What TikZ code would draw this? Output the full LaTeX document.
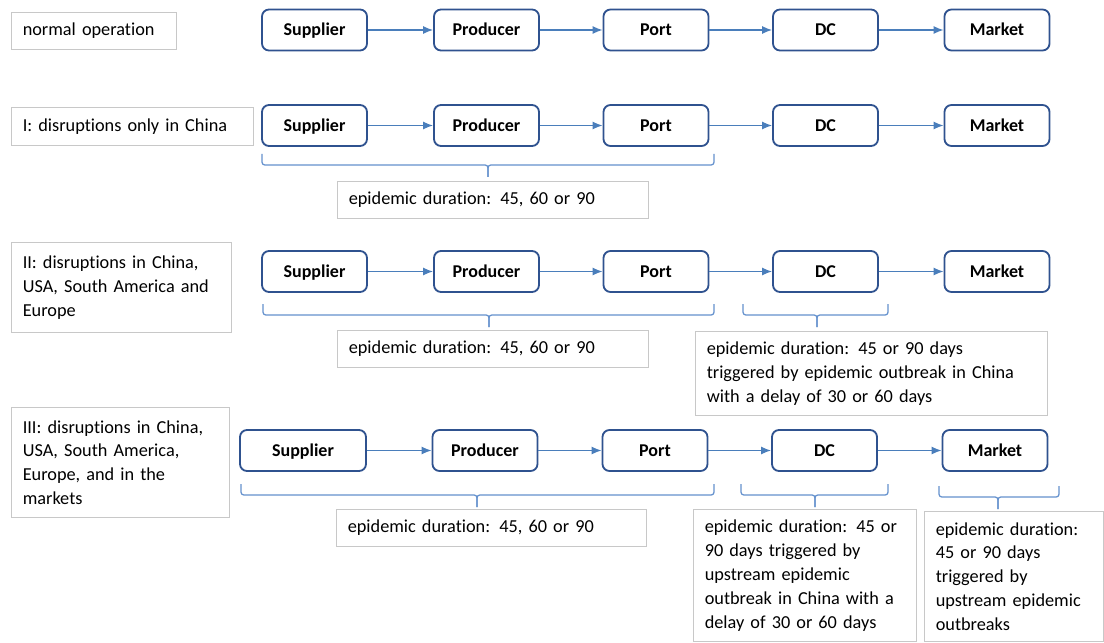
\documentclass[tikz,border=0pt]{standalone}
\usepackage{fontspec}
\setmainfont{Carlito}[Ligatures=NoCommon]
\usetikzlibrary{arrows.meta}

\definecolor{chainblue}{RGB}{47,82,143}
\definecolor{flowblue}{RGB}{74,126,187}
\definecolor{bracecol}{RGB}{100,145,205}
\definecolor{notegray}{RGB}{200,200,200}

% square brace under a span: left x, right x, top y, stem x
\newcommand{\spanbrace}[4]{%
	\draw[brace] (#1,#3) |- (#4,#3+11) -- (#4,#3+23);
	\draw[brace] (#2,#3) |- (#4,#3+11) -- (#4,#3+23);
}

\begin{document}
\begin{tikzpicture}[x=0.025cm, y=-0.025cm,
		stage/.style={draw=chainblue, line width=1.3pt, rounded corners=5pt, minimum width=2.625cm, minimum height=1.025cm, inner sep=0pt, text height=10.5pt, text depth=2pt, font=\fontsize{12.8}{17}\selectfont\bfseries},
		note/.style={draw=notegray, line width=0.8pt, anchor=north west, align=left, inner xsep=0.28cm, inner ysep=0pt, font=\fontsize{13}{17}\selectfont},
		flow/.style={draw=flowblue, line width=0.9pt, -{Latex[length=2.5mm,width=2mm]}},
		brace/.style={draw=bracecol, line width=0.9pt, rounded corners=2pt}]
	\useasboundingbox (0,0) rectangle (1104,643);

	% normal operation
	\node[note, text width=3.565cm, minimum height=0.925cm] (lblN) at (11,12) {normal operation};
	\node[stage] (supN) at (314.5,30) {Supplier};
	\node[stage] (proN) at (486.5,30) {Producer};
	\node[stage] (porN) at (656,30) {Port};
	\node[stage] (dcN) at (825.5,30) {DC};
	\node[stage] (marN) at (997,30) {Market};

	% scenario I
	\node[note, text width=5.49cm, minimum height=0.95cm] (lblA) at (11,107) {I: disruptions only in China};
	\node[stage] (supA) at (314.5,125.5) {Supplier};
	\node[stage] (proA) at (486.5,125.5) {Producer};
	\node[stage] (porA) at (656,125.5) {Port};
	\node[stage] (dcA) at (825.5,125.5) {DC};
	\node[stage] (marA) at (997,125.5) {Market};
	\spanbrace{262}{714}{154}{488}
	\node[note, text width=7.215cm, minimum height=0.925cm] (durA) at (337,181) {epidemic duration: 45, 60 or 90};

	% scenario II
	\node[note, text width=4.94cm, minimum height=2.25cm] (lblB) at (11,242) {II: disruptions in China,\\ USA, South America and\\ Europe};
	\node[stage] (supB) at (314.5,271.5) {Supplier};
	\node[stage] (proB) at (486.5,271.5) {Producer};
	\node[stage] (porB) at (656,271.5) {Port};
	\node[stage] (dcB) at (825.5,271.5) {DC};
	\node[stage] (marB) at (997,271.5) {Market};
	\spanbrace{263}{714}{304}{489}
	\spanbrace{743}{888}{304}{817}
	\node[note, text width=7.215cm, minimum height=0.925cm] (durB) at (337,330) {epidemic duration: 45, 60 or 90};
	\node[note, text width=8.24cm, minimum height=2.1cm] (durBdc) at (695,331) {epidemic duration: 45 or 90 days\\ triggered by epidemic outbreak in China\\ with a delay of 30 or 60 days};

	% scenario III
	\node[note, text width=4.89cm, minimum height=2.75cm] (lblC) at (11,407) {III: disruptions in China,\\ USA, South America,\\ Europe, and in the\\ markets};
	\node[stage, minimum width=3.15cm] (supC) at (303,450.5) {Supplier};
	\node[stage] (proC) at (485,450.5) {Producer};
	\node[stage] (porC) at (655,450.5) {Port};
	\node[stage] (dcC) at (824.5,450.5) {DC};
	\node[stage] (marC) at (995,450.5) {Market};
	\spanbrace{241}{714}{484}{477}
	\spanbrace{741}{888}{484}{815}
	\spanbrace{939}{1059}{486}{998}
	\node[note, text width=7.19cm, minimum height=0.925cm] (durC) at (336,509) {epidemic duration: 45, 60 or 90};
	\node[note, text width=5.015cm, minimum height=3.3cm] (durCdc) at (693,509) {epidemic duration: 45 or\\ 90 days triggered by\\ upstream epidemic\\ outbreak in China with a\\ delay of 30 or 60 days};
	\node[note, text width=3.915cm, minimum height=3.25cm] (durCmar) at (924,511) {epidemic duration:\\ 45 or 90 days\\ triggered by\\ upstream epidemic\\ outbreaks};

	% flows along each chain
	\foreach \r in {N,A,B,C} {
		\draw[flow] (sup\r) -- (pro\r);
		\draw[flow] (pro\r) -- (por\r);
		\draw[flow] (por\r) -- (dc\r);
		\draw[flow] (dc\r) -- (mar\r);
	}
\end{tikzpicture}
\end{document}
